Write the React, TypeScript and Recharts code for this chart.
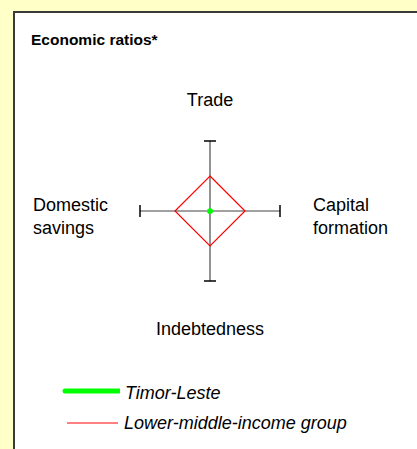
import React from "react";
import {
  RadarChart,
  Radar,
  PolarGrid,
  PolarAngleAxis,
  PolarRadiusAxis,
  Legend,
} from "recharts";

const axes = ["Trade", "Capital formation", "Indebtedness", "Domestic savings"];
const timorLeste = [0, 0, 0, 0];
const lowerMiddleIncome = [0.5, 0.5, 0.5, 0.5];
const seriesNames = ["Timor-Leste", "Lower-middle-income group"];

const FONT = "'Liberation Sans', Arial, Helvetica, sans-serif";

const data = axes.map((axis, i) => ({
  axis,
  timor: timorLeste[i],
  lmi: lowerMiddleIncome[i],
}));

const legendWidths: Record<string, number> = {
  "Timor-Leste": 5,
  "Lower-middle-income group": 1,
};

// spoke end cap + category label
function AxisTick(props: any) {
  const { x, y, payload } = props;
  const a = (payload.coordinate * Math.PI) / 180;
  const dx = Math.cos(a);
  const dy = -Math.sin(a);
  const ex = x - 8 * dx;
  const ey = y - 8 * dy;
  const px = -dy * 6;
  const py = dx * 6;
  const words = String(payload.value).split(" ");

  let label: React.ReactNode;
  if (Math.abs(dx) < 0.01) {
    const ty = dy < 0 ? ey - 35 : ey + 54;
    label = (
      <text x={ex} y={ty} textAnchor="middle" fontSize={18} fontFamily={FONT} fill="#000">
        {payload.value}
      </text>
    );
  } else {
    // two-line block, lines left-aligned
    const tx = dx > 0 ? ex + 33 : ex - 107;
    label = (
      <text x={tx} y={ey} textAnchor="start" fontSize={18} fontFamily={FONT} fill="#000">
        {words.map((w, i) => (
          <tspan key={i} x={tx} dy={i === 0 ? 0 : 23}>
            {w}
          </tspan>
        ))}
      </text>
    );
  }

  return (
    <g>
      <line
        x1={ex - px}
        y1={ey - py}
        x2={ex + px}
        y2={ey + py}
        stroke="#000"
        strokeWidth={1.5}
      />
      {label}
    </g>
  );
}

function LegendContent(props: any) {
  const items = [...(props.payload || [])].sort(
    (a: any, b: any) => seriesNames.indexOf(a.value) - seriesNames.indexOf(b.value)
  );
  return (
    <div style={{ fontFamily: FONT, fontSize: 18, fontStyle: "italic", color: "#000" }}>
      {items.map((entry: any, i: number) => {
        const w = legendWidths[entry.value] ?? 1;
        return (
          <div
            key={i}
            style={{ display: "flex", alignItems: "center", height: 30, lineHeight: "30px" }}
          >
            <svg width={60} height={30} style={{ display: "block" }}>
              <line
                x1={w > 1 ? 5 : 7}
                x2={w > 1 ? 59 : 58}
                y1={w > 1 ? 13 : 15}
                y2={w > 1 ? 13 : 15}
                stroke={entry.color}
                strokeWidth={w}
                strokeLinecap={w > 1 ? "round" : "butt"}
              />
            </svg>
            <span style={{ marginLeft: w > 1 ? 5 : 4 }}>{entry.value}</span>
          </div>
        );
      })}
    </div>
  );
}

export default function App() {
  return (
    <div
      style={{
        position: "fixed",
        left: 0,
        top: 0,
        width: 417,
        height: 449,
        background: "#FFFFC8",
        overflow: "hidden",
      }}
    >
      <div
        style={{
          position: "absolute",
          left: 13,
          top: 11,
          right: -4,
          bottom: -4,
          background: "#fff",
          borderTop: "2px solid #3a3a3a",
          borderLeft: "2px solid #3a3a3a",
        }}
      />
      <div
        style={{
          position: "absolute",
          left: 31,
          top: 31,
          fontFamily: FONT,
          fontWeight: "bold",
          fontSize: 15.5,
          lineHeight: "18px",
          color: "#000",
        }}
      >
        Economic ratios*
      </div>
      <div style={{ position: "absolute", left: 0, top: 0 }}>
        <RadarChart
          width={417}
          height={449}
          data={data}
          cx={210}
          cy={211}
          outerRadius={70}
          margin={{ top: 0, right: 0, bottom: 0, left: 0 }}
        >
          <PolarGrid
            gridType="circle"
            polarRadius={[0]}
            stroke="#808080"
            strokeWidth={1.7}
          />
          <PolarAngleAxis
            dataKey="axis"
            tick={(p: any) => <AxisTick {...p} />}
            tickLine={false}
            axisLine={false}
          />
          <PolarRadiusAxis domain={[0, 1]} tick={false} axisLine={false} />
          <Radar
            name="Timor-Leste"
            dataKey="timor"
            stroke="#00FF00"
            strokeWidth={5}
            fill="none"
            shape={() => null}
            dot={{ r: 2.6, fill: "#00FF00", stroke: "none" }}
            isAnimationActive={false}
          />
          <Radar
            name="Lower-middle-income group"
            dataKey="lmi"
            stroke="#FF0000"
            strokeWidth={1.2}
            fill="none"
            dot={false}
            isAnimationActive={false}
          />
          <Legend
            content={(p: any) => <LegendContent {...p} />}
            wrapperStyle={{ position: "absolute", left: 60, top: 378, width: 340, bottom: "auto" }}
          />
        </RadarChart>
      </div>
    </div>
  );
}
